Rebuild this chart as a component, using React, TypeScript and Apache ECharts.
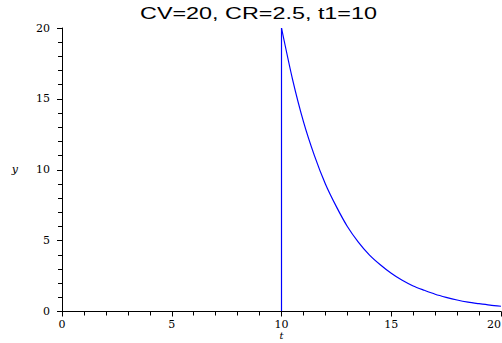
import React, { useEffect, useRef } from "react";
import * as echarts from "echarts";

const titleText = "CV=20, CR=2.5, t1=10";
const xTicks = { min: 0, max: 20, interval: 5 };
const yTicks = { min: 0, max: 20, interval: 5 };

// before the switch-on time (flat at 0, then vertical jump)
const stepT = [0, 10, 10];
const stepY = [0, 0, 20];

// decay part
const decayT = [10, 10.5, 11, 11.5, 12, 12.5, 13, 13.5, 14, 14.5, 15, 15.5, 16, 16.5, 17, 17.5, 18, 18.5, 19, 19.5, 20];
const decayY = [20, 16.4, 13.4, 11.0, 9.0, 7.4, 6.0, 4.9, 4.0, 3.3, 2.7, 2.2, 1.8, 1.5, 1.22, 1.0, 0.81, 0.66, 0.55, 0.45, 0.37];

export default function App() {
  const ref = useRef<HTMLDivElement>(null);
  useEffect(() => {
    if (!ref.current) return;
    const chart = echarts.init(ref.current, undefined, { renderer: "svg" });
    const labelStyle = { color: "#000", fontFamily: "DejaVu Serif", fontSize: 11 };
    const axisCommon = {
      type: "value" as const,
      splitLine: { show: false },
      axisLine: { show: true, lineStyle: { color: "#000", width: 1 } },
      axisTick: { show: true, length: 5, lineStyle: { color: "#000" } },
      minorTick: { show: true, splitNumber: 5, length: 4, lineStyle: { color: "#000" } },
      axisLabel: { ...labelStyle },
      nameTextStyle: { color: "#000", fontFamily: "DejaVu Serif", fontStyle: "italic", fontSize: 11 },
      nameMoveOverlap: false,
      z: 3,
    };
    chart.setOption({
      animation: false,
      backgroundColor: "#fff",
      grid: { left: 62, right: 1, top: 28, bottom: 31.5, containLabel: false, outerBoundsMode: "none" },
      graphic: [
        {
          type: "text",
          x: 258.5,
          y: 13,
          scaleX: 1.46,
          style: {
            text: titleText,
            fill: "#000",
            font: "16px 'Liberation Sans'",
            textAlign: "center",
            textVerticalAlign: "middle",
          },
        },
      ],
      xAxis: {
        ...axisCommon,
        min: xTicks.min,
        max: xTicks.max,
        interval: xTicks.interval,
        name: "t",
        nameLocation: "middle",
        nameGap: 19,
        nameTextStyle: { color: "#000", fontFamily: "DejaVu Serif", fontStyle: "italic", fontSize: 10 },
        axisLabel: { ...labelStyle, margin: 7, alignMaxLabel: "right" },
      },
      yAxis: {
        ...axisCommon,
        min: yTicks.min,
        max: yTicks.max,
        interval: yTicks.interval,
        name: "y",
        nameLocation: "middle",
        nameGap: 44,
        nameRotate: 0,
        axisLabel: { ...labelStyle, margin: 12 },
      },
      series: [
        {
          type: "line",
          data: stepT.map((t, i) => [t, stepY[i]]),
          showSymbol: false,
          lineStyle: { color: "#0000ff", width: 1.2 },
          z: 2,
        },
        {
          type: "line",
          data: decayT.map((t, i) => [t, decayY[i]]),
          showSymbol: false,
          smooth: 0.25,
          lineStyle: { color: "#0000ff", width: 1.2 },
          z: 2,
        },
      ],
    });
    return () => chart.dispose();
  }, []);
  return <div ref={ref} style={{ width: 502, height: 343, position: "absolute", left: 0, top: 0 }} />;
}
